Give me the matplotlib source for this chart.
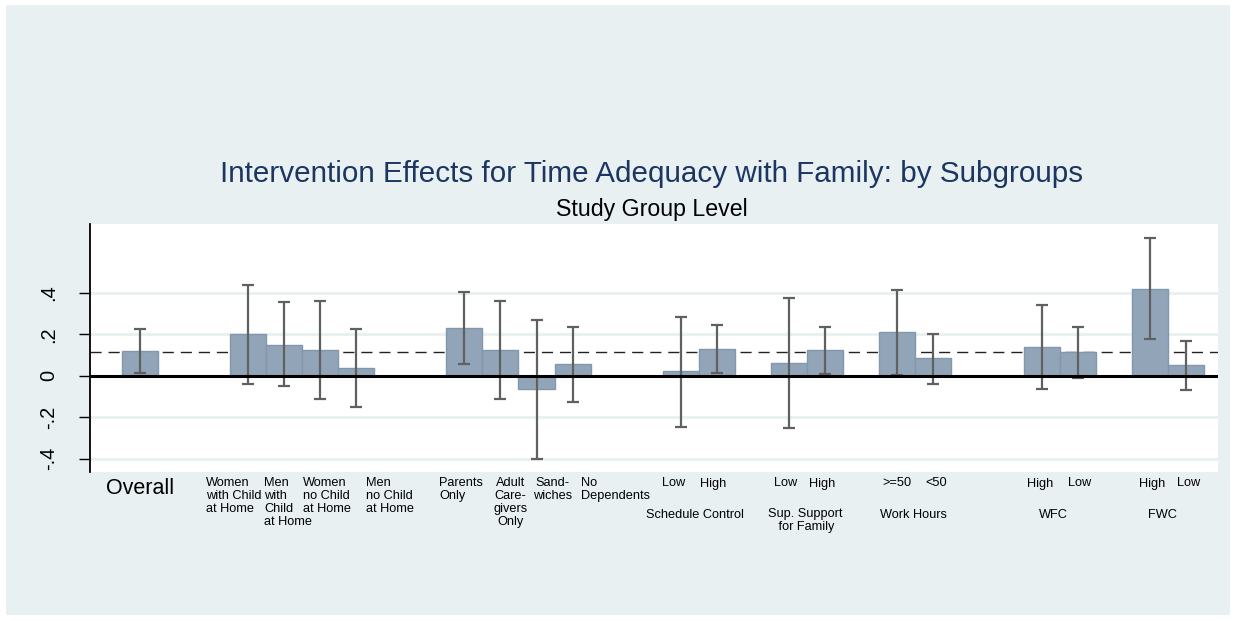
import numpy as np
import matplotlib
matplotlib.use("Agg")
import matplotlib.pyplot as plt
import matplotlib.transforms as mtransforms
from matplotlib.patches import Rectangle

plt.rcParams['font.family'] = ['Liberation Sans', 'DejaVu Sans']

# estimates, lower and upper CI bounds
subgroups = ["Overall",
             "Women with Child at Home", "Men with Child at Home",
             "Women no Child at Home", "Men no Child at Home",
             "Parents Only", "Adult Caregivers Only", "Sandwiches", "No Dependents",
             "Schedule Control Low", "Schedule Control High",
             "Sup. Support Low", "Sup. Support High",
             "Work Hours >=50", "Work Hours <50",
             "WFC High", "WFC Low", "FWC High", "FWC Low"]
estimate = [0.118, 0.201, 0.150, 0.126, 0.039, 0.229, 0.126, -0.063, 0.055,
            0.021, 0.130, 0.060, 0.123, 0.210, 0.084, 0.140, 0.114, 0.420, 0.052]
ci_low = [0.013, -0.039, -0.051, -0.113, -0.151, 0.056, -0.113, -0.400, -0.126,
          -0.248, 0.013, -0.254, 0.008, 0.003, -0.042, -0.066, -0.010, 0.177, -0.068]
ci_high = [0.226, 0.440, 0.355, 0.362, 0.227, 0.404, 0.361, 0.269, 0.235,
           0.285, 0.245, 0.375, 0.235, 0.414, 0.203, 0.342, 0.235, 0.664, 0.169]
overall_effect = 0.116

yticks = [-0.4, -0.2, 0, 0.2, 0.4]
ytick_labels = ["-.4", "-.2", "0", ".2", ".4"]

# bar labels under the plot (text, x slot, alignment)
bar_labels = [("Women\nwith Child\nat Home", 1.84, 'left'),
              ("Men\nwith\nChild\nat Home", 3.45, 'left'),
              ("Women\nno Child\nat Home", 4.53, 'left'),
              ("Men\nno Child\nat Home", 6.26, 'left'),
              ("Parents\nOnly", 8.30, 'left'),
              ("Adult\nCare-\ngivers\nOnly", 10.27, 'center'),
              ("Sand-\nwiches", 11.45, 'center'),
              ("No\nDependents", 12.23, 'left'),
              ("Low", 14.48, 'left'), ("High", 15.54, 'left'),
              ("Low", 17.58, 'left'), ("High", 18.54, 'left'),
              (">=50", 20.58, 'left'), ("<50", 21.79, 'left'),
              ("High", 24.60, 'left'), ("Low", 25.74, 'left'),
              ("High", 27.70, 'left'), ("Low", 28.74, 'left')]
group_labels = [("Schedule Control", 15.39), ("Sup. Support\n for Family", 18.44),
                ("Work Hours", 21.44), ("WFC", 25.32), ("FWC", 28.36)]

# slot layout: group sizes with empty slots between groups
group_sizes = [1, 4, 4, 2, 2, 2, 2, 2]
gaps = [2, 2, 2, 1, 1, 2, 1]
xpos = []
pos = 0
for i, n in enumerate(group_sizes):
    xpos += list(range(pos, pos + n))
    pos += n
    if i < len(gaps):
        pos += gaps[i]
xpos = np.array(xpos)

W, H = 1236, 621
bg = '#e8f0f2'
fig = plt.figure(figsize=(W / 100, H / 100), dpi=100, facecolor='white')
fig.patches.append(Rectangle((6 / W, 6 / H), 1 - 12 / W, 1 - 11 / H,
                             transform=fig.transFigure, facecolor=bg,
                             edgecolor='none', zorder=-10))

ax = fig.add_axes([90 / W, 1 - 472 / H, (1218 - 90) / W, (472 - 224) / H])
ax.set_facecolor('white')

ax.bar(xpos, estimate, width=1.0, color='#92a5b8', edgecolor='#8197ad',
       linewidth=1.0, zorder=2)
est = np.array(estimate)
ax.errorbar(xpos, est, yerr=[est - np.array(ci_low), np.array(ci_high) - est],
            fmt='none', ecolor='#606060', elinewidth=1.6, capsize=4,
            capthick=1.6, zorder=3)
ax.axhline(0, color='black', linewidth=2.2, zorder=4)
ax.axhline(overall_effect, color='#222222', linewidth=1.0,
           dashes=(8, 5), zorder=1.5)

ax.set_xlim(-1.377, 29.89)
ax.set_ylim(-0.465, 0.733)
ax.set_xticks([])
ax.set_yticks(yticks)
ax.set_yticklabels(ytick_labels, rotation=90, va='center', fontsize=14.4)
ax.tick_params(axis='y', length=8, width=1, direction='out', pad=15)
ax.grid(axis='y', color=bg, linewidth=2)
ax.set_axisbelow(True)
for s in ['top', 'right', 'bottom']:
    ax.spines[s].set_visible(False)
ax.spines['left'].set_linewidth(1.3)

trans = mtransforms.blended_transform_factory(ax.transData, fig.transFigure)
ax.text(0, 1 - 488 / H, "Overall", transform=trans, ha='center', va='center',
        fontsize=15.5, clip_on=False)
for txt, x, ha in bar_labels:
    ax.text(x, 1 - 477.5 / H, txt, transform=trans, ha=ha, va='top',
            multialignment=ha, fontsize=9.2, linespacing=1.1, clip_on=False)
for txt, x in group_labels:
    ax.text(x, 1 - 508.5 / H, txt, transform=trans, ha='center', va='top',
            multialignment='center', fontsize=9.2, linespacing=1.1, clip_on=False)

fig.text(651.7 / W, 1 - 174 / H,
         "Intervention Effects for Time Adequacy with Family: by Subgroups",
         ha='center', va='center', fontsize=21.3, color='#1c3661')
fig.text(651.7 / W, 1 - 210 / H, "Study Group Level", ha='center', va='center',
         fontsize=16.7, color='black')

fig.savefig('out.png', dpi=100, facecolor='white')
